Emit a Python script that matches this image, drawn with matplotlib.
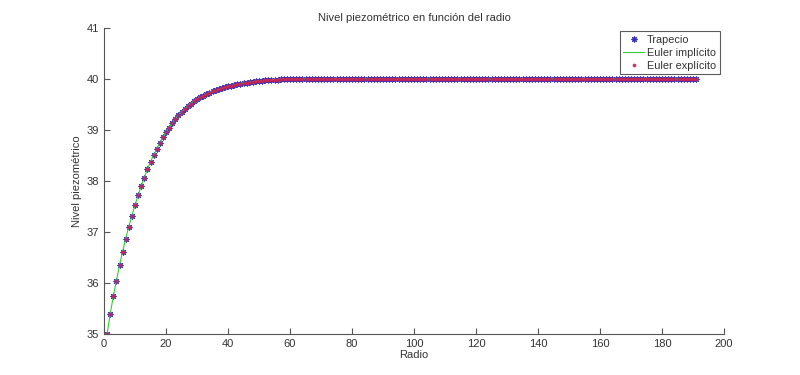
import matplotlib
matplotlib.use("Agg")
import matplotlib.pyplot as plt

plt.rcParams['font.family'] = ['Liberation Sans', 'DejaVu Sans']

radio = list(range(1, 192))
nivel_inicio = [35.00, 35.40, 35.74, 36.05, 36.35, 36.62, 36.87, 37.11, 37.32, 37.53,
                37.72, 37.90, 38.07, 38.23, 38.38, 38.51, 38.63, 38.75, 38.86, 38.96,
                39.05, 39.14, 39.22, 39.29, 39.35, 39.41, 39.47, 39.52, 39.57, 39.61,
                39.64, 39.67, 39.70, 39.73, 39.76, 39.78, 39.80, 39.82, 39.84, 39.86,
                39.87, 39.88, 39.90, 39.91, 39.92, 39.93, 39.94, 39.95, 39.96, 39.97,
                39.97, 39.98, 39.98, 39.99, 39.99, 39.99]
nivel_meseta = [40.00] * (len(radio) - len(nivel_inicio))
trapecio = nivel_inicio + nivel_meseta
euler_implicito = nivel_inicio + nivel_meseta
euler_explicito = nivel_inicio + nivel_meseta

title = "Nivel piezométrico en función del radio"
xlabel = "Radio"
ylabel = "Nivel piezométrico"
labels = ["Trapecio", "Euler implícito", "Euler explícito"]
xticks = [0, 20, 40, 60, 80, 100, 120, 140, 160, 180, 200]
yticks = [35, 36, 37, 38, 39, 40, 41]

txt = '#333333'
fig = plt.figure(figsize=(8, 3.75), dpi=100)
ax = fig.add_axes([0.13, 0.109, 0.775, 0.816])

ax.plot(radio, trapecio, linestyle='none', marker=(8, 2, 0), markersize=4.2,
        color='#3333bb', markeredgewidth=0.8, label=labels[0])
ax.plot(radio, euler_implicito, '-', color='#33cc33', linewidth=0.8, label=labels[1])
ax.plot(radio, euler_explicito, linestyle='none', marker='.', markersize=3.5,
        color='#cc2255', alpha=0.85, label=labels[2])

ax.set_xlim(0, 200)
ax.set_ylim(35, 41)
ax.set_xticks(xticks)
ax.set_yticks(yticks)
for s in ['top', 'right']:
    ax.spines[s].set_visible(False)
for s in ['left', 'bottom']:
    ax.spines[s].set_color('#555555')
    ax.spines[s].set_linewidth(0.8)
ax.tick_params(direction='in', length=4, width=0.8, colors='#555555',
               labelcolor=txt, labelsize=8)
ax.set_title(title, fontsize=8, color=txt, pad=5)
ax.set_xlabel(xlabel, fontsize=8, color=txt, labelpad=1)
ax.set_ylabel(ylabel, fontsize=8, color=txt, labelpad=3)

leg = ax.legend(loc='upper right', bbox_to_anchor=(0.998, 1.0), fontsize=7.8,
                frameon=True, fancybox=False, handlelength=1.9, borderpad=0.3,
                labelspacing=0.3, handletextpad=0.3, borderaxespad=0.3)
leg.get_frame().set_edgecolor('#333333')
leg.get_frame().set_linewidth(0.8)
for t in leg.get_texts():
    t.set_color(txt)

fig.savefig('out.png', dpi=100)
